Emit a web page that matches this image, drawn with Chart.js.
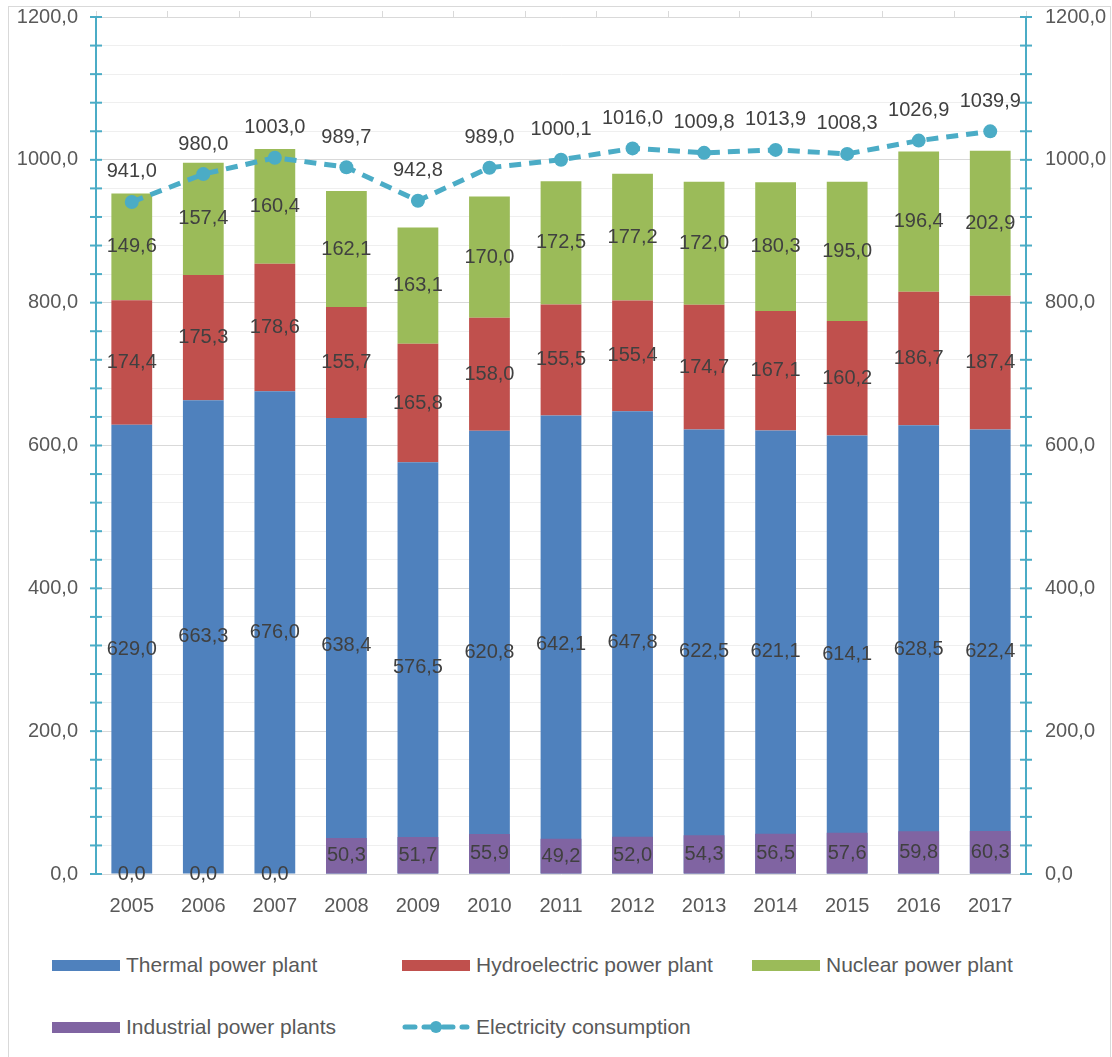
<!DOCTYPE html>
<html lang="en">
<head>
  <meta charset="UTF-8">
  <title>Electricity production and consumption</title>
  <script src="https://cdn.jsdelivr.net/npm/chart.js"></script>
  <style>
    body { margin: 0; background: #fff; font-family: "Liberation Sans", Arial, sans-serif; }
    .wrap { position: relative; width: 1112px; height: 1057px; overflow: hidden; }
    .frame { position: absolute; left: 8px; top: 6px; width: 1101px; height: 1060px; border: 1px solid #d9d9d9; }
    .chart-box { position: absolute; left: 0; top: -13px; width: 1112px; height: 943px; }
    .legend-item { position: absolute; display: flex; align-items: center; font-size: 21px; color: #595959; white-space: nowrap; }
    .legend-item .swatch { width: 68px; height: 11px; margin-right: 6px; }
    .legend-item svg { margin-right: 6px; }
  </style>
</head>
<body>
  <div class="wrap">
    <div class="frame"></div>
    <div class="chart-box"><canvas id="powerChart"></canvas></div>
    <div class="legend-item" style="left:52px; top:953px;"><span class="swatch" style="background:#4f81bd"></span>Thermal power plant</div>
    <div class="legend-item" style="left:402px; top:953px;"><span class="swatch" style="background:#c0504d"></span>Hydroelectric power plant</div>
    <div class="legend-item" style="left:752px; top:953px;"><span class="swatch" style="background:#9bbb59"></span>Nuclear power plant</div>
    <div class="legend-item" style="left:52px; top:1015px;"><span class="swatch" style="background:#8064a2"></span>Industrial power plants</div>
    <div class="legend-item" style="left:402px; top:1015px;">
      <svg width="68" height="14"><line x1="3" y1="7" x2="65" y2="7" stroke="#4bacc6" stroke-width="5" stroke-linecap="round" stroke-dasharray="10 9"/><circle cx="34" cy="7" r="6" fill="#4bacc6"/></svg>Electricity consumption</div>
  </div>

  <script>
    const years = ['2005', '2006', '2007', '2008', '2009', '2010', '2011', '2012', '2013', '2014', '2015', '2016', '2017'];
    const thermal = [629.0, 663.3, 676.0, 638.4, 576.5, 620.8, 642.1, 647.8, 622.5, 621.1, 614.1, 628.5, 622.4];
    const hydro = [174.4, 175.3, 178.6, 155.7, 165.8, 158.0, 155.5, 155.4, 174.7, 167.1, 160.2, 186.7, 187.4];
    const nuclear = [149.6, 157.4, 160.4, 162.1, 163.1, 170.0, 172.5, 177.2, 172.0, 180.3, 195.0, 196.4, 202.9];
    const industrial = [0.0, 0.0, 0.0, 50.3, 51.7, 55.9, 49.2, 52.0, 54.3, 56.5, 57.6, 59.8, 60.3];
    const consumption = [941.0, 980.0, 1003.0, 989.7, 942.8, 989.0, 1000.1, 1016.0, 1009.8, 1013.9, 1008.3, 1026.9, 1039.9];

    const teal = '#4bacc6';
    const tickColor = '#595959';
    const fontFamily = '"Liberation Sans", Arial, sans-serif';

    function fmt(v) { return v.toFixed(1).replace('.', ','); }

    // value labels inside bars and above the line points
    const valueLabels = {
      id: 'valueLabels',
      afterDatasetsDraw(chart) {
        const ctx = chart.ctx;
        ctx.save();
        ctx.font = '20px ' + fontFamily;
        ctx.fillStyle = '#404040';
        ctx.textAlign = 'center';
        ctx.textBaseline = 'middle';
        chart.data.datasets.forEach((ds, i) => {
          const meta = chart.getDatasetMeta(i);
          meta.data.forEach((el, j) => {
            const v = ds.data[j];
            if (meta.type === 'bar') {
              ctx.fillText(fmt(v), el.x, (el.y + el.base) / 2);
            } else {
              ctx.fillText(fmt(v), el.x, el.y - 30);
            }
          });
        });
        ctx.restore();
      }
    };

    // teal tick marks crossing both value axes
    const axisTicks = {
      id: 'axisTicks',
      afterDraw(chart) {
        const ctx = chart.ctx;
        ctx.save();
        ctx.strokeStyle = teal;
        ctx.lineWidth = 2;
        ['y', 'y1'].forEach(id => {
          const s = chart.scales[id];
          const x = id === 'y' ? s.right : s.left;
          s.ticks.forEach(t => {
            const py = s.getPixelForValue(t.value);
            ctx.beginPath();
            ctx.moveTo(x - 6, py);
            ctx.lineTo(x + 6, py);
            ctx.stroke();
          });
        });
        ctx.restore();
      }
    };

    const yTicks = {
      stepSize: 40,
      color: tickColor,
      font: { size: 20, family: fontFamily },
      padding: 18,
      callback: v => (v % 200 === 0 ? fmt(v) : '')
    };

    new Chart(document.getElementById('powerChart'), {
      type: 'bar',
      data: {
        labels: years,
        datasets: [
          { type: 'bar', label: 'Thermal power plant', data: thermal, backgroundColor: '#4f81bd', order: 2, stack: 'plants', grouped: false },
          { type: 'bar', label: 'Hydroelectric power plant', data: hydro, backgroundColor: '#c0504d', order: 3, stack: 'plants', grouped: false },
          { type: 'bar', label: 'Nuclear power plant', data: nuclear, backgroundColor: '#9bbb59', order: 4, stack: 'plants', grouped: false },
          { type: 'bar', label: 'Industrial power plants', data: industrial, backgroundColor: '#8064a2', order: 1, stack: 'industrial', grouped: false },
          { type: 'line', label: 'Electricity consumption', data: consumption, borderColor: teal, backgroundColor: teal,
            borderWidth: 5, borderDash: [12, 8], pointRadius: 7, pointHoverRadius: 7, pointBorderWidth: 0,
            tension: 0, order: 0, yAxisID: 'y1' }
        ]
      },
      options: {
        responsive: true,
        maintainAspectRatio: false,
        animation: false,
        layout: { padding: 0 },
        categoryPercentage: 1,
        barPercentage: 0.57,
        plugins: { legend: { display: false }, tooltip: { enabled: false } },
        scales: {
          x: {
            position: 'bottom',
            grid: { display: false },
            border: { display: false },
            ticks: { color: tickColor, font: { size: 20, family: fontFamily }, padding: 12 },
            afterFit: s => { s.height = 56; }
          },
          x2: {
            type: 'category',
            position: 'top',
            offset: true,
            grid: { drawOnChartArea: false, drawTicks: true, tickLength: 6, color: '#d9d9d9', offset: true },
            border: { color: '#d9d9d9', width: 1 },
            ticks: { display: false },
            afterFit: s => { s.height = 17; }
          },
          y: {
            stacked: true,
            min: 0,
            max: 1200,
            ticks: yTicks,
            grid: { drawTicks: false, color: c => (c.tick && c.tick.value % 200 === 0 ? '#d9d9d9' : '#efefef'), lineWidth: 1 },
            border: { color: teal, width: 2 },
            afterFit: s => { s.width = 96; }
          },
          y1: {
            position: 'right',
            min: 0,
            max: 1200,
            ticks: Object.assign({}, yTicks, { padding: 11 }),
            grid: { display: false },
            border: { color: teal, width: 2 },
            afterFit: s => { s.width = 86; }
          }
        }
      },
      plugins: [valueLabels, axisTicks]
    });
  </script>
</body>
</html>
